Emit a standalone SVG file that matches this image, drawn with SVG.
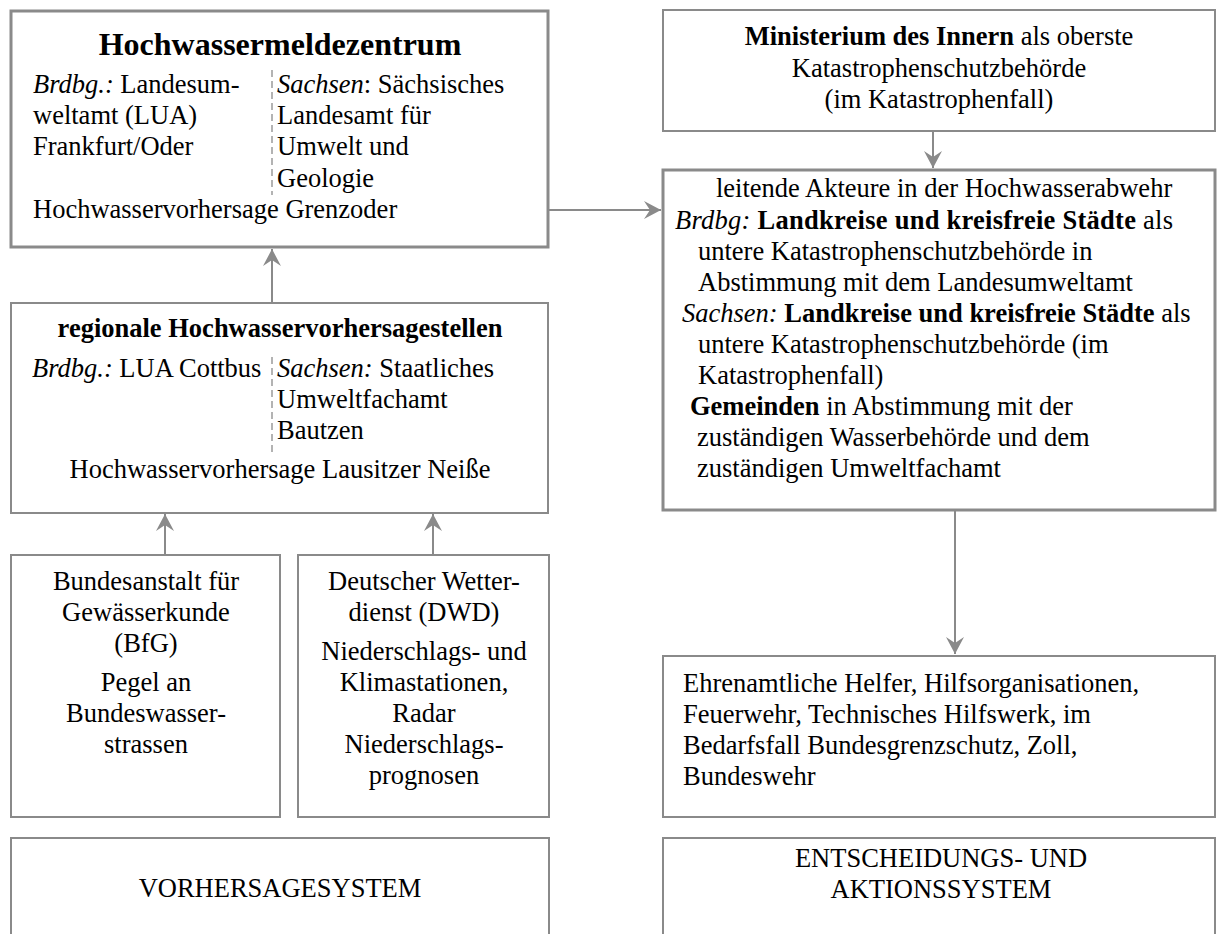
<svg xmlns="http://www.w3.org/2000/svg" width="1218" height="934" viewBox="0 0 1218 934">
<style>
.box{fill:#fff;stroke:#8a8a8a;stroke-width:2}
.thick{stroke-width:3}
.t{font-family:"Liberation Serif","Times New Roman",serif;font-size:26.5px;fill:#000}
.c{text-anchor:middle}
.b{font-weight:bold}
.i{font-style:italic}
.dash{stroke:#9a9a9a;stroke-width:1.5;stroke-dasharray:7 4;fill:none}
.con{stroke:#8a8a8a;stroke-width:2;fill:none;marker-end:url(#ah)}
</style>
<defs>
<marker id="ah" viewBox="0 0 18 18" refX="17" refY="9" markerWidth="18" markerHeight="18" markerUnits="userSpaceOnUse" orient="auto">
<path d="M17,9 L0,0 L6,9 L0,18 Z" fill="#8a8a8a"/>
</marker>
</defs>
<rect width="1218" height="934" fill="#fff"/>

<g id="hochwassermeldezentrum">
<rect class="box thick" x="11" y="11" width="537" height="236"/>
<text class="t c b" x="280" y="55" style="font-size:32px">Hochwassermeldezentrum</text>
<text class="t" x="33" y="93"><tspan class="i">Brdbg.:</tspan> Landesum-</text>
<text class="t" x="33" y="124">weltamt (LUA)</text>
<text class="t" x="33" y="155">Frankfurt/Oder</text>
<line class="dash" x1="272" y1="70" x2="272" y2="195"/>
<text class="t" x="277" y="93"><tspan class="i">Sachsen</tspan>: Sächsisches</text>
<text class="t" x="277" y="124">Landesamt für</text>
<text class="t" x="277" y="155">Umwelt und</text>
<text class="t" x="277" y="187">Geologie</text>
<text class="t" x="33" y="218">Hochwasservorhersage Grenzoder</text>
</g>

<g id="regionale-stellen">
<rect class="box" x="11" y="303" width="537" height="210"/>
<text class="t c b" x="280" y="337">regionale Hochwasservorhersagestellen</text>
<text class="t" x="32" y="377"><tspan class="i">Brdbg.:</tspan> LUA Cottbus</text>
<line class="dash" x1="272" y1="357" x2="272" y2="455"/>
<text class="t" x="277" y="377"><tspan class="i">Sachsen:</tspan> Staatliches</text>
<text class="t" x="277" y="408">Umweltfachamt</text>
<text class="t" x="277" y="439">Bautzen</text>
<text class="t c" x="280" y="478">Hochwasservorhersage Lausitzer Neiße</text>
</g>

<g id="bfg">
<rect class="box" x="11" y="555" width="269" height="262"/>
<text class="t c" x="146" y="590">Bundesanstalt für</text>
<text class="t c" x="146" y="621">Gewässerkunde</text>
<text class="t c" x="146" y="652">(BfG)</text>
<text class="t c" x="146" y="691">Pegel an</text>
<text class="t c" x="146" y="722">Bundeswasser-</text>
<text class="t c" x="146" y="753">strassen</text>
</g>

<g id="dwd">
<rect class="box" x="298" y="555" width="251" height="262"/>
<text class="t c" x="424" y="590">Deutscher Wetter-</text>
<text class="t c" x="424" y="621">dienst (DWD)</text>
<text class="t c" x="424" y="660">Niederschlags- und</text>
<text class="t c" x="424" y="691">Klimastationen,</text>
<text class="t c" x="424" y="722">Radar</text>
<text class="t c" x="424" y="753">Niederschlags-</text>
<text class="t c" x="424" y="784">prognosen</text>
</g>

<g id="vorhersagesystem">
<rect class="box" x="11" y="838" width="538" height="110"/>
<text class="t c" x="280" y="897">VORHERSAGESYSTEM</text>
</g>

<g id="ministerium">
<rect class="box" x="663" y="10" width="552" height="121"/>
<text class="t c" x="939" y="45"><tspan class="b">Ministerium des Innern</tspan> als oberste</text>
<text class="t c" x="939" y="77">Katastrophenschutzbehörde</text>
<text class="t c" x="939" y="108">(im Katastrophenfall)</text>
</g>

<g id="leitende-akteure">
<rect class="box thick" x="663" y="170" width="552" height="340"/>
<text class="t" x="716" y="197">leitende Akteure in der Hochwasserabwehr</text>
<text class="t" x="675" y="229" textLength="498" lengthAdjust="spacing"><tspan class="i">Brdbg:</tspan> <tspan class="b">Landkreise und kreisfreie Städte</tspan> als</text>
<text class="t" x="698" y="260">untere Katastrophenschutzbehörde in</text>
<text class="t" x="698" y="291">Abstimmung mit dem Landesumweltamt</text>
<text class="t" x="682" y="322"><tspan class="i">Sachsen:</tspan> <tspan class="b">Landkreise und kreisfreie Städte</tspan> als</text>
<text class="t" x="698" y="353">untere Katastrophenschutzbehörde (im</text>
<text class="t" x="698" y="384">Katastrophenfall)</text>
<text class="t" x="690" y="415"><tspan class="b">Gemeinden</tspan> in Abstimmung mit der</text>
<text class="t" x="697" y="446">zuständigen Wasserbehörde und dem</text>
<text class="t" x="697" y="477">zuständigen Umweltfachamt</text>
</g>

<g id="helfer">
<rect class="box" x="663" y="656" width="552" height="161"/>
<text class="t" x="683" y="692">Ehrenamtliche Helfer, Hilfsorganisationen,</text>
<text class="t" x="683" y="723">Feuerwehr, Technisches Hilfswerk, im</text>
<text class="t" x="683" y="754">Bedarfsfall Bundesgrenzschutz, Zoll,</text>
<text class="t" x="683" y="785">Bundeswehr</text>
</g>

<g id="aktionssystem">
<rect class="box" x="663" y="838" width="552" height="110"/>
<text class="t c" x="941" y="867">ENTSCHEIDUNGS- UND</text>
<text class="t c" x="941" y="898">AKTIONSSYSTEM</text>
</g>

<g id="connectors">
<line class="con" x1="272" y1="303" x2="272" y2="249"/>
<line class="con" x1="165" y1="555" x2="165" y2="514"/>
<line class="con" x1="433" y1="555" x2="433" y2="514"/>
<line class="con" x1="549" y1="210" x2="661" y2="210"/>
<line class="con" x1="933" y1="131" x2="933" y2="168"/>
<line class="con" x1="955" y1="510" x2="955" y2="654"/>
</g>
</svg>
